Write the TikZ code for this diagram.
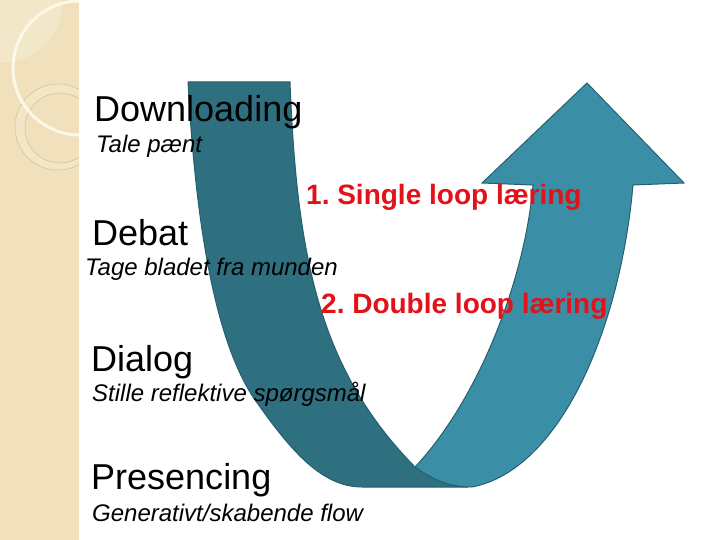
\documentclass[tikz,border=0pt]{standalone}
\usepackage{fontspec}
\setmainfont{Liberation Sans}
\definecolor{darkteal}{RGB}{46,111,128}
\definecolor{lightteal}{RGB}{58,143,166}
\definecolor{edgeteal}{RGB}{38,96,112}
\definecolor{beige}{RGB}{240,225,188}
\definecolor{beigelight}{RGB}{243,231,202}
\definecolor{ringfill}{RGB}{243,230,198}
\definecolor{ringline}{RGB}{214,194,150}
\definecolor{arcwhite}{RGB}{252,248,232}
\definecolor{redtxt}{RGB}{226,18,24}
\begin{document}
\frenchspacing
\begin{tikzpicture}[x=1bp,y=-1bp,
  head/.style={anchor=base west, inner sep=0, font=\fontsize{36bp}{40bp}\selectfont},
  sub/.style={anchor=base west, inner sep=0, font=\fontsize{24bp}{28bp}\selectfont\itshape},
  loopl/.style={anchor=base west, inner sep=0, text=redtxt, font=\fontsize{28bp}{32bp}\selectfont\bfseries},
  backarm/.style={fill=darkteal, draw=edgeteal, line width=1bp, line join=round},
  frontarm/.style={fill=lightteal, draw=edgeteal, line width=1bp, line join=miter}]
\useasboundingbox (0,0) rectangle (720,540);
\fill[white] (0,0) rectangle (720,540);
% decorative strip
\begin{scope}
\clip (0,0) rectangle (79,540);
\fill[beige] (0,0) rectangle (79,540);
\fill[beigelight] (0,0) circle (63);
\fill[ringfill, even odd rule] (58,127) circle (43) (60,128) circle (35);
\draw[ringline, line width=0.6bp] (58,127) circle (43) (60,128) circle (35);
\draw[arcwhite, line width=3bp] (80,68) circle (67);
\end{scope}
% back (dark) arm
\path[backarm] (188,82) -- (290,82)
  .. controls (297,260) and (320,370) .. (415,467)
  -- (468,487) -- (362,487)
  .. controls (320,487) and (288,447) .. (253,397)
  .. controls (216,340) and (196,230) .. (188,82)
  -- cycle;
% front (light) arm with head
\path[frontarm] (533,185)
  .. controls (525,280) and (478,400) .. (415,467)
  .. controls (430,477) and (445,487) .. (472,487)
  .. controls (560,470) and (620,330) .. (633,185)
  -- (684,183) -- (587,83) -- (482,183) -- cycle;
% texts
\node[head] (t1) at (94,122) {Downloading};
\node[sub] (s1) at (96,153) {Tale pænt};
\node[loopl] (l1) at (306,205) {1. Single loop læring};
\node[head] (t2) at (92,246) {Debat};
\node[sub] (s2) at (85,276) {Tage bladet fra munden};
\node[loopl] (l2) at (321,313) {2. Double loop læring};
\node[head] (t3) at (91,371) {Dialog};
\node[sub] (s3) at (92,401) {Stille reflektive spørgsmål};
\node[head] (t4) at (91,489) {Presencing};
\node[sub] (s4) at (92,521) {Generativt/skabende flow};
\end{tikzpicture}
\end{document}
